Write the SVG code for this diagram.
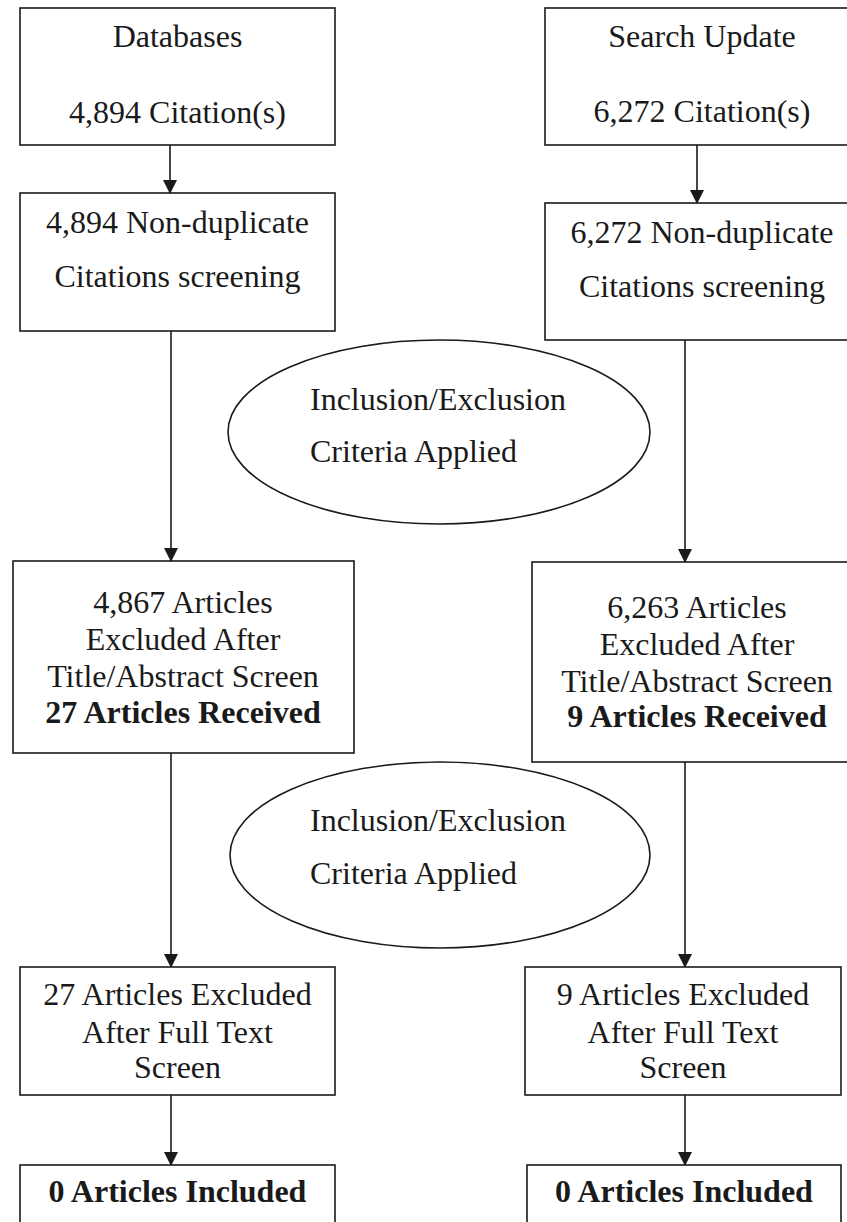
<svg xmlns="http://www.w3.org/2000/svg" width="847" height="1222" viewBox="0 0 847 1222">
<style>
.box{fill:#fff;stroke:#1a1a1a;stroke-width:1.6}
.ell{fill:#fff;stroke:#1a1a1a;stroke-width:1.6}
.t{font-size:32px;fill:#1a1a1a;text-anchor:middle}
.s{text-anchor:start}
.b{font-weight:bold}
.c{stroke:#1a1a1a;stroke-width:1.6;fill:none}
</style>
<defs>
<marker id="ah" markerUnits="userSpaceOnUse" markerWidth="14" markerHeight="14" viewBox="0 0 14 14" refX="13" refY="7" orient="auto">
<path d="M0,0 L14,7 L0,14 Z" fill="#1a1a1a"/>
</marker>
</defs>
<rect width="847" height="1222" fill="#fff"/>
<g id="connectors">
<line class="c" x1="170" y1="145" x2="170" y2="193" marker-end="url(#ah)"/>
<line class="c" x1="171" y1="331" x2="171" y2="561" marker-end="url(#ah)"/>
<line class="c" x1="171" y1="753" x2="171" y2="967" marker-end="url(#ah)"/>
<line class="c" x1="171" y1="1095" x2="171" y2="1165" marker-end="url(#ah)"/>
<line class="c" x1="697" y1="145" x2="697" y2="203" marker-end="url(#ah)"/>
<line class="c" x1="685" y1="340" x2="685" y2="562" marker-end="url(#ah)"/>
<line class="c" x1="685" y1="762" x2="685" y2="967" marker-end="url(#ah)"/>
<line class="c" x1="685" y1="1095" x2="685" y2="1165" marker-end="url(#ah)"/>
</g>
<g font-family="'Liberation Serif', 'Times New Roman', serif">
<g id="db">
<rect class="box" x="20" y="8" width="315" height="137"/>
<text class="t" x="177.5" y="47">Databases</text>
<text class="t" x="177.5" y="123">4,894 Citation(s)</text>
</g>
<g id="su">
<rect class="box" x="545" y="8" width="315" height="137"/>
<text class="t" x="702" y="47">Search Update</text>
<text class="t" x="702" y="122">6,272 Citation(s)</text>
</g>
<g id="nd-left">
<rect class="box" x="20" y="193" width="315" height="138"/>
<text class="t" x="177.5" y="233">4,894 Non-duplicate</text>
<text class="t" x="177.5" y="287">Citations screening</text>
</g>
<g id="nd-right">
<rect class="box" x="545" y="203" width="315" height="137"/>
<text class="t" x="702" y="243">6,272 Non-duplicate</text>
<text class="t" x="702" y="297">Citations screening</text>
</g>
<g id="crit1">
<ellipse class="ell" cx="439" cy="432" rx="211" ry="92"/>
<text class="t s" x="310" y="410">Inclusion/Exclusion</text>
<text class="t s" x="310" y="462">Criteria Applied</text>
</g>
<g id="ta-left">
<rect class="box" x="13" y="561" width="341" height="192"/>
<text class="t" x="183" y="613">4,867 Articles</text>
<text class="t" x="183" y="650">Excluded After</text>
<text class="t" x="183" y="687">Title/Abstract Screen</text>
<text class="t b" x="183" y="723">27 Articles Received</text>
</g>
<g id="ta-right">
<rect class="box" x="532" y="562" width="330" height="200"/>
<text class="t" x="697" y="618">6,263 Articles</text>
<text class="t" x="697" y="655">Excluded After</text>
<text class="t" x="697" y="692">Title/Abstract Screen</text>
<text class="t b" x="697" y="727">9 Articles Received</text>
</g>
<g id="crit2">
<ellipse class="ell" cx="440" cy="855" rx="210" ry="93"/>
<text class="t s" x="310" y="831">Inclusion/Exclusion</text>
<text class="t s" x="310" y="884">Criteria Applied</text>
</g>
<g id="ft-left">
<rect class="box" x="20" y="967" width="315" height="128"/>
<text class="t" x="177.5" y="1005">27 Articles Excluded</text>
<text class="t" x="177.5" y="1043">After Full Text</text>
<text class="t" x="177.5" y="1078">Screen</text>
</g>
<g id="ft-right">
<rect class="box" x="525" y="967" width="316" height="128"/>
<text class="t" x="683" y="1005">9 Articles Excluded</text>
<text class="t" x="683" y="1043">After Full Text</text>
<text class="t" x="683" y="1078">Screen</text>
</g>
<g id="inc-left">
<rect class="box" x="20" y="1165" width="315" height="80"/>
<text class="t b" x="177.5" y="1202">0 Articles Included</text>
</g>
<g id="inc-right">
<rect class="box" x="527" y="1165" width="314" height="80"/>
<text class="t b" x="684" y="1202">0 Articles Included</text>
</g>
</g>
</svg>
